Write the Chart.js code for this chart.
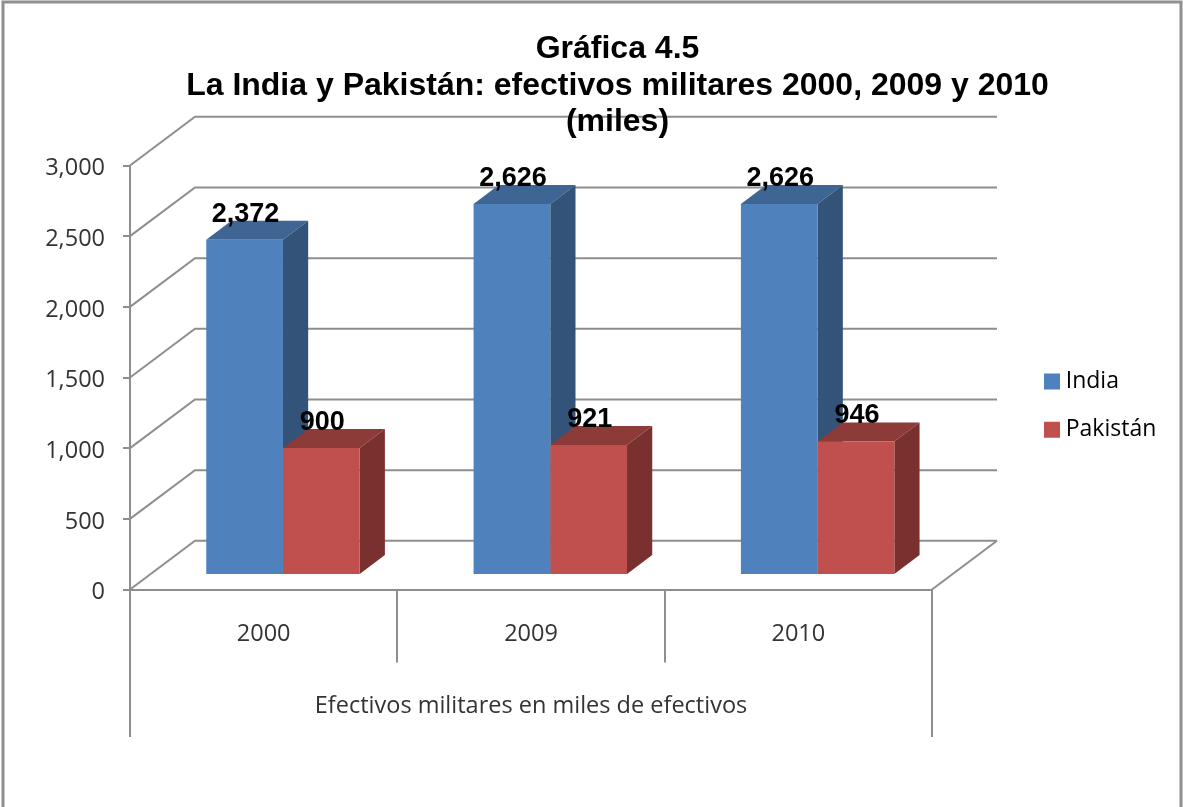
<!DOCTYPE html>
<html>
<head>
<meta charset="utf-8">
<title>Gráfica 4.5</title>
<script src="https://cdn.jsdelivr.net/npm/chart.js@4"></script>
<style>
	html, body { margin: 0; padding: 0; background: #fff; }
	canvas { display: block; }
</style>
</head>
<body>
<canvas id="myChart" width="1183" height="807"></canvas>
<script>
	var years = ['2000', '2009', '2010'];
	var india = [2372, 2626, 2626];
	var pakistan = [900, 921, 946];
	var titleLines = ['Gráfica 4.5', 'La India y Pakistán: efectivos militares 2000, 2009 y 2010', '(miles)'];
	var axisGroup = 'Efectivos militares en miles de efectivos';

	var lineColor = '#8e8e8e';
	var lineWidth = 2;
	var axisFont = 'Open Sans';
	var boldFont = 'Liberation Sans';
	var wall = { dx: 65, dy: -48.7 };    // depth of the back wall
	var barShift = { dx: 19.3, dy: -14.4 };  // bars stand inside the floor
	var barDepth = { dx: 25.2, dy: -19 };

	var shades = {
		'#4f81bd': { top: '#3e6594', side: '#335478' },
		'#c0504d': { top: '#8c3b39', side: '#7a302e' }
	};

	function fmt(v) {
		return v.toLocaleString('en-US');
	}

	var fake3d = {
		id: 'fake3d',
		afterLayout: function(chart) {
			// the title is centred further right than the plot, the legend sits right of the floor
			var tb = chart.titleBlock;
			tb.left = 53;
			tb.right = 1182;
			var lg = chart.legend;
			lg.left = 1049.75 - lg.options.labels.padding;
			lg.top = 370 - lg.options.labels.padding;
			lg.right = 1178;
			lg.bottom = 520;
			lg.width = lg.right - lg.left;
			lg.height = lg.bottom - lg.top;
		},
		beforeDraw: function(chart) {
			var ctx = chart.ctx;
			var x = chart.scales.x;
			var y = chart.scales.y;
			ctx.save();
			// outer frame, open at the bottom
			ctx.strokeStyle = '#8f8f8f';
			ctx.lineWidth = 3;
			ctx.strokeRect(3, 2, 1178, 900);
			// walls
			ctx.strokeStyle = lineColor;
			ctx.lineWidth = lineWidth;
			y.ticks.forEach(function(t) {
				var py = y.getPixelForValue(t.value);
				ctx.beginPath();
				ctx.moveTo(x.left, py);
				ctx.lineTo(x.left + wall.dx, py + wall.dy);
				ctx.lineTo(x.right + wall.dx, py + wall.dy);
				ctx.stroke();
			});
			// floor, right edge
			var y0 = y.getPixelForValue(0);
			ctx.beginPath();
			ctx.moveTo(x.right, y0);
			ctx.lineTo(x.right + wall.dx, y0 + wall.dy);
			ctx.stroke();
			// outer separators of the second label level
			ctx.beginPath();
			ctx.moveTo(x.left, y0);
			ctx.lineTo(x.left, 737);
			ctx.moveTo(x.right, y0);
			ctx.lineTo(x.right, 737);
			ctx.stroke();
			ctx.restore();
		},
		beforeDatasetsDraw: function(chart) {
			// top and side faces first, the library paints the front faces over them
			var ctx = chart.ctx;
			ctx.save();
			ctx.translate(barShift.dx, barShift.dy);
			chart.data.datasets.forEach(function(ds, i) {
				chart.getDatasetMeta(i).data.forEach(function(bar) {
					var l = bar.x - bar.width / 2;
					var r = bar.x + bar.width / 2;
					ctx.fillStyle = shades[ds.backgroundColor].top;
					ctx.beginPath();
					ctx.moveTo(l, bar.y);
					ctx.lineTo(l + barDepth.dx, bar.y + barDepth.dy);
					ctx.lineTo(r + barDepth.dx, bar.y + barDepth.dy);
					ctx.lineTo(r, bar.y);
					ctx.closePath();
					ctx.fill();
					ctx.fillStyle = shades[ds.backgroundColor].side;
					ctx.beginPath();
					ctx.moveTo(r, bar.y);
					ctx.lineTo(r + barDepth.dx, bar.y + barDepth.dy);
					ctx.lineTo(r + barDepth.dx, bar.base + barDepth.dy);
					ctx.lineTo(r, bar.base);
					ctx.closePath();
					ctx.fill();
				});
			});
			ctx.restore();
		},
		beforeDatasetDraw: function(chart) {
			chart.ctx.save();
			chart.ctx.translate(barShift.dx, barShift.dy);
		},
		afterDatasetDraw: function(chart) {
			chart.ctx.restore();
		},
		afterDatasetsDraw: function(chart) {
			var ctx = chart.ctx;
			ctx.save();
			ctx.fillStyle = '#000';
			ctx.font = 'bold 27px "' + boldFont + '"';
			ctx.textAlign = 'center';
			ctx.textBaseline = 'alphabetic';
			chart.data.datasets.forEach(function(ds, i) {
				chart.getDatasetMeta(i).data.forEach(function(bar, j) {
					ctx.fillText(fmt(ds.data[j]), bar.x + barShift.dx + 1, bar.y + barShift.dy - 18);
				});
			});
			ctx.restore();
		}
	};

	var myChart = new Chart(document.getElementById('myChart'), {
		type: 'bar',
		data: {
			labels: years,
			datasets: [{
				label: 'India',
				data: india,
				backgroundColor: '#4f81bd',
				clip: false
			}, {
				label: 'Pakistán',
				data: pakistan,
				backgroundColor: '#c0504d',
				clip: false
			}]
		},
		options: {
			responsive: false,
			animation: false,
			events: [],
			layout: { padding: { left: 0, right: 251, top: 0, bottom: 0 } },
			categoryPercentage: 0.574,
			barPercentage: 1,
			scales: {
				x: {
					afterFit: function(scale) { scale.height = 217.5; },
					grid: { drawOnChartArea: false, color: lineColor, lineWidth: lineWidth, tickLength: 73 },
					border: { color: lineColor, width: lineWidth },
					ticks: { color: '#333', padding: -42, font: { family: axisFont, size: 23.5 } },
					title: {
						display: true,
						text: axisGroup,
						color: '#333',
						padding: { top: 0, bottom: 87 },
						font: { family: axisFont, size: 23.5 }
					}
				},
				y: {
					min: 0,
					max: 3000,
					afterFit: function(scale) { scale.width = 130; },
					grid: { drawOnChartArea: false, color: lineColor, lineWidth: lineWidth, tickLength: 7 },
					border: { color: lineColor, width: lineWidth },
					ticks: {
						stepSize: 500,
						color: '#333',
						padding: 18,
						labelOffset: 3,
						font: { family: axisFont, size: 23.5 },
						callback: function(v) { return fmt(v); }
					}
				}
			},
			plugins: {
				tooltip: { enabled: false },
				title: {
					display: true,
					text: titleLines,
					color: '#000',
					padding: { top: 31, bottom: 25 },
					font: { family: boldFont, size: 32, weight: 'bold', lineHeight: '36.5px' }
				},
				legend: {
					position: 'chartArea',
					align: 'start',
					labels: {
						boxWidth: 4.5,
						boxHeight: 4.5,
						padding: 25.3,
						color: '#333',
						font: { family: axisFont, size: 23 },
						// thick outline in the fill colour keeps the text close to a 16px swatch
						generateLabels: function(chart) {
							return chart.data.datasets.map(function(ds, i) {
								return { text: ds.label, fillStyle: ds.backgroundColor, strokeStyle: ds.backgroundColor, lineWidth: 11.5, datasetIndex: i };
							});
						}
					}
				}
			}
		},
		plugins: [fake3d]
	});
</script>
</body>
</html>
